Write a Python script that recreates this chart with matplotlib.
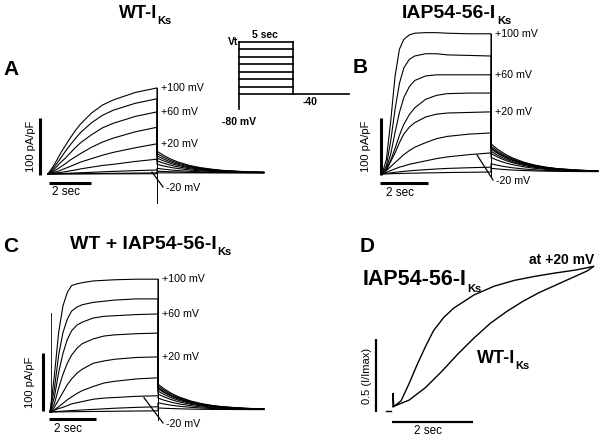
import numpy as np
import matplotlib.pyplot as plt

plt.rcParams['font.family'] = ['Liberation Sans', 'DejaVu Sans']

# test potentials (mV), top trace first
volts = [100, 80, 60, 40, 20, 0, -20, -40, -60]

# sample times (s): 5 s step, then tail at -40 mV
step_t = [0, 0.2, 0.4, 0.6, 0.8, 1.0, 1.25, 1.5, 2, 2.5, 3, 4, 5]
tail_t = [0, 0.25, 0.5, 0.75, 1, 1.5, 2, 2.5, 3, 4, 4.9]

# A: WT-IKs, current density (pA/pF)
a_step = [
    [0, 11, 24, 38, 50, 62, 76, 88, 107, 121, 130, 143, 151],
    [0, 8, 18, 29, 40, 50, 62, 73, 90, 103, 112, 124, 132],
    [0, 5, 13, 21, 28, 36, 46, 55, 69, 81, 89, 101, 109],
    [0, 3, 8, 13, 18, 24, 30, 36, 47, 56, 63, 74, 82],
    [0, 2, 4, 7, 10, 13, 17, 21, 27, 33, 38, 46, 53],
    [0, 1, 2, 3, 4, 5.5, 7, 9, 12, 15, 17, 22, 26],
    [0, 0.2, 0.5, 0.8, 1.1, 1.4, 1.8, 2.2, 3, 3.8, 4.6, 5.9, 7],
    [0, 0.05, 0.1, 0.2, 0.3, 0.4, 0.5, 0.6, 0.8, 1.0, 1.2, 1.6, 2],
    [0, 0, 0, 0.05, 0.1, 0.1, 0.15, 0.15, 0.2, 0.25, 0.3, 0.4, 0.5],
]
a_tail = [
    [40, 33.9, 28.6, 24.2, 20.6, 14.9, 11.1, 8.5, 6.4, 4.2, 3.1],
    [36, 30.6, 25.8, 21.9, 18.7, 13.6, 10.2, 7.8, 6.0, 3.9, 3.0],
    [32, 27.2, 23.0, 19.6, 16.7, 12.2, 9.2, 7.1, 5.5, 3.7, 2.9],
    [28, 23.8, 20.2, 17.2, 14.7, 10.8, 8.2, 6.4, 5.0, 3.5, 2.8],
    [23, 19.6, 16.7, 14.3, 12.3, 9.1, 7.0, 5.6, 4.5, 3.2, 2.6],
    [17, 14.6, 12.5, 10.8, 9.4, 7.1, 5.6, 4.6, 3.8, 2.9, 2.5],
    [10, 8.7, 7.6, 6.7, 5.9, 4.7, 3.9, 3.4, 2.9, 2.5, 2.2],
    [5, 4.5, 4.1, 3.8, 3.5, 3.0, 2.7, 2.5, 2.4, 2.2, 2.1],
    [2, 2, 2, 2, 2, 2, 2, 2, 2, 2, 2],
]

# B: IAP54-56-IKs
b_step = [
    [0, 25, 93, 172, 219, 236, 244, 247, 248, 248, 247, 246, 246],
    [0, 14, 58, 114, 159, 186, 201, 207, 211, 211, 209, 208, 207],
    [0, 9, 35, 73, 108, 134, 153, 164, 172, 174, 174, 174, 174],
    [0, 7, 24, 45, 68, 87, 104, 116, 131, 138, 141, 142, 142],
    [0, 7, 22, 37, 55, 70, 82, 90, 100, 105, 107, 108, 109],
    [0, 6, 13, 20, 27, 34, 41, 47, 55, 62, 66, 70, 72],
    [0, 3, 6, 9, 12, 14, 17, 19, 23, 27, 30, 34, 37],
    [0, 1, 2, 3, 3.8, 4.6, 5.5, 6.3, 7.6, 8.8, 9.8, 11, 12],
    [0, 0.2, 0.5, 0.7, 0.9, 1.1, 1.3, 1.5, 1.9, 2.2, 2.6, 3, 3.5],
]
b_tail = [
    [53, 45.0, 38.3, 32.7, 28.0, 20.8, 15.8, 12.2, 9.7, 6.8, 5.5],
    [49, 41.6, 35.5, 30.3, 26.1, 19.4, 14.8, 11.6, 9.3, 6.6, 5.4],
    [46, 39.1, 33.4, 28.6, 24.6, 18.4, 14.1, 11.1, 8.9, 6.4, 5.3],
    [44, 37.4, 32.0, 27.4, 23.6, 17.7, 13.6, 10.7, 8.7, 6.3, 5.2],
    [40, 34.1, 29.2, 25.1, 21.6, 16.3, 12.6, 10.0, 8.2, 6.1, 5.1],
    [36, 30.8, 26.4, 22.7, 19.7, 15.0, 11.7, 9.4, 7.7, 5.8, 5.0],
    [29, 24.9, 21.5, 18.6, 16.3, 12.6, 10.0, 8.2, 6.9, 5.4, 4.8],
    [18, 15.7, 13.8, 12.2, 10.9, 8.8, 7.4, 6.4, 5.6, 4.8, 4.4],
    [10, 9.0, 8.2, 7.5, 6.9, 6.1, 5.4, 5.0, 4.7, 4.3, 4.2],
]

# C: WT + IAP54-56-IKs
c_step = [
    [0, 62, 137, 183, 206, 218, 221, 223, 226, 227, 228, 229, 229],
    [0, 39, 98, 137, 160, 174, 181, 185, 189, 191, 193, 195, 195],
    [0, 25, 68, 101, 125, 140, 150, 155, 162, 165, 166, 168, 169],
    [0, 14, 41, 65, 84, 98, 110, 118, 126, 131, 133, 135, 136],
    [0, 8, 21, 34, 47, 57, 67, 74, 84, 88, 91, 94, 95],
    [0, 4, 9, 15, 21, 26, 32, 37, 44, 50, 53, 57, 59],
    [0, 3, 6, 8, 11, 14, 16, 18, 22, 24, 25, 27, 28],
    [0, 0.5, 1, 1.5, 2, 2.5, 3, 3.5, 4.5, 5.5, 6.5, 8, 9],
    [0, 0.1, 0.2, 0.3, 0.4, 0.5, 0.6, 0.7, 0.9, 1.1, 1.3, 1.7, 2],
]
c_tail = [
    [48, 40.8, 34.8, 29.7, 25.6, 19.1, 14.6, 11.4, 9.1, 6.5, 5.3],
    [45, 38.3, 32.7, 28.0, 24.1, 18.1, 13.8, 10.9, 8.8, 6.3, 5.2],
    [42, 35.8, 30.6, 26.2, 22.6, 17.0, 13.1, 10.4, 8.4, 6.2, 5.1],
    [40, 34.1, 29.2, 25.1, 21.6, 16.3, 12.6, 10.0, 8.2, 6.1, 5.1],
    [36, 30.8, 26.4, 22.7, 19.7, 15.0, 11.7, 9.4, 7.7, 5.8, 5.0],
    [31, 26.6, 22.9, 19.8, 17.2, 13.3, 10.5, 8.5, 7.2, 5.5, 4.8],
    [24, 20.7, 18.0, 15.7, 13.8, 10.9, 8.8, 7.4, 6.3, 5.1, 4.6],
    [16, 14.0, 12.4, 11.0, 9.9, 8.1, 6.9, 6.0, 5.4, 4.7, 4.4],
    [7, 6.5, 6.1, 5.8, 5.5, 5.0, 4.7, 4.5, 4.4, 4.2, 4.1],
]
# capacitive transient at step off (pA/pF, lowest point)
off_transient = {'A': -51, 'B': -3, 'C': -14}
c_onset_spike = 171

# D: normalized activation at +20 mV
iap_t = [0, 0, 0.02, 0.2, 0.4, 0.6, 0.8, 1.0, 1.25, 1.5, 2.0, 2.5, 3.0, 3.5, 4.0, 4.5, 4.95]
iap_i = [0.03, 0.12, 0.03, 0.07, 0.19, 0.32, 0.44, 0.55, 0.64, 0.705, 0.795, 0.855, 0.895,
         0.922, 0.945, 0.965, 0.99]
wt_t = [0, 0.4, 0.8, 1.2, 1.6, 2.0, 2.4, 2.8, 3.2, 3.6, 4.0, 4.4, 4.8, 4.95]
wt_i = [0.03, 0.075, 0.16, 0.27, 0.39, 0.5, 0.6, 0.68, 0.75, 0.81, 0.86, 0.91, 0.96, 0.99]

# voltage protocol inset (mV)
proto_steps = [100, 80, 60, 40, 20, 0, -20, -40]
proto_hold = -80
proto_tail = -40

STEP_DUR = 5.0

fig = plt.figure(figsize=(6, 4.37), dpi=100)
ax = fig.add_axes([0, 0, 1, 1])
ax.set_xlim(0, 600)
ax.set_ylim(437, 0)
ax.axis('off')
renderer = fig.canvas.get_renderer()


def sub_text(x, y, main, sub, size, sub_size=8, drop=6):
    t = ax.text(x, y, main, fontsize=size, fontweight='bold', ha='left', va='baseline')
    bb = t.get_window_extent(renderer)
    xr = ax.transData.inverted().transform((bb.x1, bb.y0))[0]
    ax.text(xr + 0.5, y + drop, sub, fontsize=sub_size, fontweight='bold',
            ha='left', va='baseline')


def draw_family(x0, y0, sx, sy, steps, tails, off_min, ptr):
    for s, tl in zip(steps, tails):
        t = np.concatenate([step_t, STEP_DUR + np.array(tail_t)])
        cur = np.concatenate([s, tl])
        ax.plot(x0 + t * sx, y0 - cur * sy, color='black', lw=0.8)
    xe = x0 + STEP_DUR * sx
    ax.plot([xe, xe], [y0 - steps[0][-1] * sy, y0 - off_min * sy], color='black', lw=0.7)
    for k in (0, 2, 4):
        ax.text(xe + 4, y0 - steps[k][-1] * sy, '%+d mV' % volts[k], fontsize=7.7,
                ha='left', va='center')
    # pointer to the -20 mV trace
    k = volts.index(-20)
    ys = y0 - steps[k][-1] * sy + 2
    ax.plot([xe + ptr[0], xe + ptr[1]], [ys, y0 + ptr[2]], color='black', lw=0.9)
    ax.text(xe + ptr[1] + 3, y0 + ptr[2] + 1, '-20 mV', fontsize=7.7, ha='left', va='center')


def scale_bars(xv, yv0, yv1, xh0, xh1, yh, lab_x, sec_y, lw=2.2, ylabel='100 pA/pF'):
    ax.plot([xv, xv], [yv0, yv1], color='black', lw=lw, solid_capstyle='butt')
    ax.plot([xh0, xh1], [yh, yh], color='black', lw=lw, solid_capstyle='butt')
    ax.text(lab_x, (yv0 + yv1) / 2, ylabel, fontsize=8, rotation=90, ha='center', va='center')
    ax.text((xh0 + xh1) / 2 - 4, sec_y, '2 sec', fontsize=8.5, ha='center', va='center')


# panel A
draw_family(48, 174, 21.8, 0.57, a_step, a_tail, off_transient['A'], (-5, 6, 13))
scale_bars(40, 118, 175, 49, 91, 183, 31, 192)

# panel B
draw_family(382, 174, 21.8, 0.57, b_step, b_tail, off_transient['B'], (-14, 2, 6))
scale_bars(381, 118, 175, 380, 428, 183, 366, 193)

# panel C
draw_family(50, 412, 21.6, 0.58, c_step, c_tail, off_transient['C'], (-14, 5, 11))
ax.plot([51, 51], [412, 412 - c_onset_spike * 0.58], color='black', lw=0.6)
scale_bars(43, 353, 411, 49, 96, 419, 30, 429)

# panel D
dx0, dy0, dsx, dsy = 393, 411, 40.5, 146
ax.plot(dx0 + np.array(iap_t) * dsx, dy0 - np.array(iap_i) * dsy, color='black', lw=1.0)
ax.plot(dx0 + np.array(wt_t) * dsx, dy0 - np.array(wt_i) * dsy, color='black', lw=1.0)
ax.plot([386, 391], [dy0, dy0], color='black', lw=1.0)
scale_bars(376, 339, 412, 392, 473, 422, 367, 430.5, lw=1.6, ylabel='0.5 (I/Imax)')

# voltage protocol inset
px0, pw = 239, 54
pv = lambda v: 94 - (v - proto_tail) / 140 * 52
for v in proto_steps:
    ax.plot([px0, px0 + pw], [pv(v), pv(v)], color='black', lw=1.2)
ax.plot([px0, px0], [pv(proto_steps[0]), pv(proto_hold)], color='black', lw=1.2)
ax.plot([px0 + pw, px0 + pw], [pv(proto_steps[0]), pv(proto_tail)], color='black', lw=1.2)
ax.plot([px0 + pw, 349], [pv(proto_tail), pv(proto_tail)], color='black', lw=1.2)
ax.text(238, 45, 'Vt', fontsize=7.5, fontweight='bold', ha='right', va='baseline')
ax.text(265, 38, '5 sec', fontsize=7.5, fontweight='bold', ha='center', va='baseline')
ax.text(222, 125, '-80 mV', fontsize=7.5, fontweight='bold', ha='left', va='baseline')
ax.text(303, 105, '-40', fontsize=7.5, fontweight='bold', ha='left', va='baseline')

# titles and panel letters
sub_text(119, 18, 'WT-I', 'Ks', 13)
sub_text(402, 18, 'IAP54-56-I', 'Ks', 14)
sub_text(70, 249, 'WT + IAP54-56-I', 'Ks', 14)
sub_text(363, 285, 'IAP54-56-I', 'Ks', 15.5, drop=7)
sub_text(477, 363, 'WT-I', 'Ks', 13)
ax.text(594, 264, 'at +20 mV', fontsize=10, fontweight='bold', ha='right', va='baseline')
for lab, x, y in [('A', 3, 75), ('B', 353, 73), ('C', 3, 252), ('D', 360, 252)]:
    ax.text(x, y, lab, fontsize=15, fontweight='bold', ha='left', va='baseline')

fig.savefig('out.png', dpi=100)
